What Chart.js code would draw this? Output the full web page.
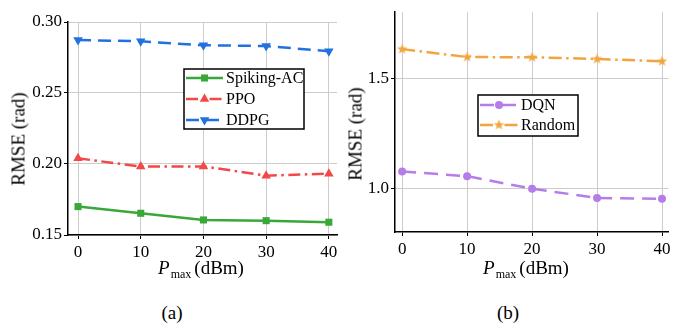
<!DOCTYPE html>
<html>
<head>
<meta charset="utf-8">
<script src="https://cdn.jsdelivr.net/npm/chart.js@4.4.1/dist/chart.umd.min.js"></script>
<style>
  body { margin: 0; background: #fff; width: 674px; height: 325px; overflow: hidden; position: relative; font-family: "Liberation Serif", "Times New Roman", serif; color: #000; }
  canvas { position: absolute; top: 0; }
  .lbl { position: absolute; white-space: nowrap; font-size: 19px; line-height: 1; transform: translate(-50%, -50%); }
  .ylbl { transform: translate(-50%, -50%) rotate(-90deg); }
  .sub { font-size: 12px; position: relative; top: 4px; margin-left: 1px; margin-right: 3px; }
</style>
</head>
<body>
<canvas id="chart-a" width="345" height="262" style="left:0"></canvas>
<canvas id="chart-b" width="334" height="262" style="left:340px"></canvas>

<div class="lbl ylbl" style="left:18px; top:139px">RMSE (rad)</div>
<div class="lbl ylbl" style="left:355px; top:134px">RMSE (rad)</div>
<div class="lbl" style="left:201px; top:267px"><i>P</i><span class="sub">max</span>(dBm)</div>
<div class="lbl" style="left:526px; top:267px"><i>P</i><span class="sub">max</span>(dBm)</div>
<div class="lbl" style="left:172px; top:312px">(a)</div>
<div class="lbl" style="left:508px; top:312px">(b)</div>

<script>
// data
const pmax = [0, 10, 20, 30, 40];
const spiking_ac = [0.170, 0.1653, 0.1606, 0.1601, 0.1590];
const ppo = [0.2040, 0.1982, 0.1983, 0.1918, 0.1932];
const ddpg = [0.2873, 0.2864, 0.2836, 0.2831, 0.2794];
const dqn = [1.075, 1.054, 0.997, 0.955, 0.951];
const random_ = [1.632, 1.596, 1.595, 1.587, 1.577];

const x_ticks = [0, 10, 20, 30, 40];
const y_ticks_a = [0.15, 0.20, 0.25, 0.30];
const y_ticks_b = [1.0, 1.5];

const FONT = '"Liberation Serif", "Times New Roman", serif';

// filled star marker (chart.js 'star' is an asterisk)
function make_star(color, r) {
    const c = document.createElement('canvas');
    const s = Math.ceil(r * 2 + 2);
    c.width = s; c.height = s;
    const ctx = c.getContext('2d');
    ctx.fillStyle = color;
    ctx.beginPath();
    for (let i = 0; i < 10; i++) {
        const rr = i % 2 === 0 ? r : r * 0.42;
        const a = -Math.PI / 2 + i * Math.PI / 5;
        const px = s / 2 + Math.cos(a) * rr;
        const py = s / 2 + Math.sin(a) * rr;
        if (i === 0) ctx.moveTo(px, py); else ctx.lineTo(px, py);
    }
    ctx.closePath();
    ctx.fill();
    return c;
}

function to_points(ys) {
    return pmax.map((x, i) => ({ x: x, y: ys[i] }));
}

function draw_marker(ctx, ds, x, y) {
    const style = ds.pointStyle;
    const r = ds.pointRadius;
    ctx.save();
    ctx.setLineDash([]);
    ctx.fillStyle = ds.borderColor;
    if (style instanceof HTMLCanvasElement) {
        ctx.drawImage(style, x - style.width / 2, y - style.height / 2);
        ctx.restore();
        return;
    }
    ctx.beginPath();
    if (style === 'rect') {
        const h = r * Math.SQRT1_2;
        ctx.rect(x - h, y - h, h * 2, h * 2);
    } else if (style === 'triangle') {
        const rot = (ds.pointRotation || 0) * Math.PI / 180;
        for (let k = 0; k < 3; k++) {
            const a = rot + k * 2 * Math.PI / 3;
            const px = x + Math.sin(a) * r, py = y - Math.cos(a) * r;
            if (k === 0) ctx.moveTo(px, py); else ctx.lineTo(px, py);
        }
        ctx.closePath();
    } else {
        ctx.arc(x, y, r, 0, Math.PI * 2);
    }
    ctx.fill();
    ctx.restore();
}

const legend_box = {
    id: 'legendBox',
    afterDatasetsDraw(chart, args, opts) {
        const ctx = chart.ctx;
        ctx.save();
        ctx.fillStyle = '#fff';
        ctx.fillRect(opts.x, opts.y, opts.w, opts.h);
        ctx.lineWidth = 1.5;
        ctx.strokeStyle = '#000';
        ctx.strokeRect(opts.x, opts.y, opts.w, opts.h);
        chart.data.datasets.forEach((ds, i) => {
            const y = opts.y + opts.first + i * opts.gap;
            const x1 = opts.x + 2, x2 = opts.x + 2 + opts.len;
            ctx.strokeStyle = ds.borderColor;
            ctx.lineWidth = ds.borderWidth;
            ctx.setLineDash(ds.borderDash || []);
            ctx.beginPath();
            ctx.moveTo(x1, y);
            ctx.lineTo(x2, y);
            ctx.stroke();
            draw_marker(ctx, ds, (x1 + x2) / 2, y);
            ctx.setLineDash([]);
            ctx.fillStyle = '#000';
            ctx.font = '16px ' + FONT;
            ctx.textBaseline = 'middle';
            ctx.fillText(ds.label, x2 + 3, y + 1);
        });
        ctx.restore();
    }
};

function make_scales(x_min, x_max, y_min, y_max, y_ticks, digits, y_width, x_height) {
    const grid = { color: '#cccccc', lineWidth: 1, tickLength: 4, tickColor: '#000' };
    const border = { color: '#000', width: 1.5 };
    const tick_font = { family: FONT, size: 17 };
    return {
        x: {
            type: 'linear', min: x_min, max: x_max,
            grid: grid, border: border,
            afterBuildTicks: s => { s.ticks = x_ticks.map(v => ({ value: v })); },
            afterFit: s => { s.height = x_height; },
            ticks: { color: '#000', font: tick_font, padding: 3, maxRotation: 0, callback: v => String(v) }
        },
        y: {
            type: 'linear', min: y_min, max: y_max,
            grid: grid, border: border,
            afterBuildTicks: s => { s.ticks = y_ticks.map(v => ({ value: v })); },
            afterFit: s => { s.width = y_width; },
            ticks: { color: '#000', font: tick_font, padding: 2, callback: v => Number(v).toFixed(digits) }
        }
    };
}

function line_set(label, ys, color, dash, style, radius, rotation) {
    return {
        label: label,
        data: to_points(ys),
        borderColor: color,
        backgroundColor: color,
        borderWidth: 2.5,
        borderDash: dash,
        pointStyle: style,
        pointRadius: radius,
        pointRotation: rotation || 0,
        pointBorderWidth: 0,
        pointBackgroundColor: color,
        tension: 0,
        clip: 8
    };
}

function chart_a() {
    const container = document.getElementById('chart-a');
    const config = {
        type: 'line',
        data: {
            datasets: [
                line_set('Spiking-AC', spiking_ac, '#3aa838', [], 'rect', 5),
                line_set('PPO', ppo, '#f24848', [12, 4.5, 2.5, 4.5], 'triangle', 5.5),
                line_set('DDPG', ddpg, '#2171e0', [13, 7], 'triangle', 5.5, 180)
            ]
        },
        options: {
            responsive: false,
            animation: false,
            layout: { padding: { top: 22, right: 8, left: 0, bottom: 0 } },
            scales: make_scales(-1.6, 41.3, 0.15, 0.30, y_ticks_a, 2, 68, 27),
            plugins: {
                legend: { display: false },
                tooltip: { enabled: false },
                legendBox: { x: 184, y: 69, w: 120, h: 60, first: 9, gap: 21, len: 37 }
            }
        },
        plugins: [legend_box]
    };
    return new Chart(container, config);
}

function chart_b() {
    const container = document.getElementById('chart-b');
    const config = {
        type: 'line',
        data: {
            datasets: [
                line_set('DQN', dqn, '#b57de8', [14, 8], 'circle', 4),
                line_set('Random', random_, '#f2a53e', [13, 4.5, 2.5, 4.5], make_star('#f2a53e', 5.5), 5.5)
            ]
        },
        options: {
            responsive: false,
            animation: false,
            layout: { padding: { top: 10, right: 2, left: 0, bottom: 0 } },
            scales: make_scales(-1.1, 41.0, 0.8, 1.8, y_ticks_b, 1, 55, 30),
            plugins: {
                legend: { display: false },
                tooltip: { enabled: false },
                legendBox: { x: 138, y: 95, w: 100, h: 41, first: 10, gap: 20, len: 38 }
            }
        },
        plugins: [legend_box]
    };
    return new Chart(container, config);
}

function init_view() {
    chart_a();
    chart_b();
}

Promise.all([
    document.fonts.load('17px "Liberation Serif"'),
    document.fonts.load('italic 19px "Liberation Serif"')
]).then(init_view, init_view);
</script>
</body>
</html>
